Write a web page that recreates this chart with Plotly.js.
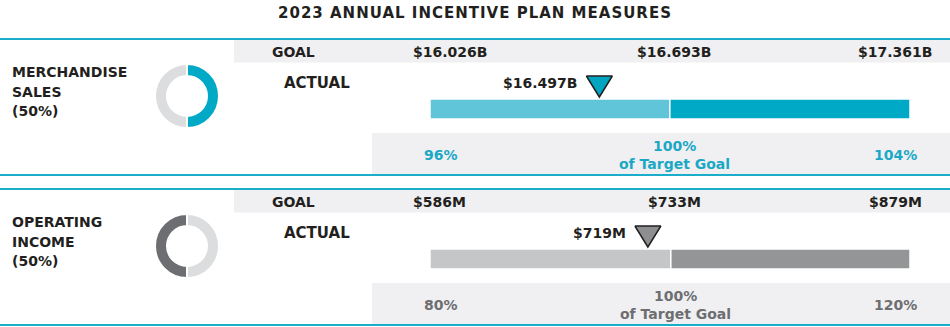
<!DOCTYPE html>
<html>
<head>
<meta charset="utf-8">
<script src="https://cdn.plot.ly/plotly-3.0.1.min.js"></script>
<style>html,body{margin:0;padding:0;background:#fff;}#chart{width:950px;height:327px;}
.gtitle{letter-spacing:1px;}</style>
</head>
<body>
<div id="chart"></div>
<script>
// ---------- DATA ----------
const chartTitle = "2023 ANNUAL INCENTIVE PLAN MEASURES";
const measureLines = [["MERCHANDISE", "SALES", "(50%)"], ["OPERATING", "INCOME", "(50%)"]];
const measureWeights = [50, 50];          // each measure is 50% of the plan
const goalLabelText = "GOAL";
const actualLabelText = "ACTUAL";

const salesGoals = [16.026, 16.693, 17.361];          // $B: threshold, target, max
const salesGoalLabels = ["$16.026B", "$16.693B", "$17.361B"];
const salesActual = 16.497;
const salesActualLabel = "$16.497B";
const salesPctLabels = ["96%", "100%<br>of Target Goal", "104%"];

const incomeGoals = [586, 733, 879];                   // $M: threshold, target, max
const incomeGoalLabels = ["$586M", "$733M", "$879M"];
const incomeActual = 719;
const incomeActualLabel = "$719M";
const incomePctLabels = ["80%", "100%<br>of Target Goal", "120%"];

// ---------- STYLE ----------
const FONT = "DejaVu Sans";
const DARK = "#231f20";
const CYAN_LINE = "#1aaecb";
const BAND = "#f0f0f2";
const W = 950, H = 327;
const barLeft = 430, barRight = 910;

const rows = [
  {top: 39, axis: "x", goals: salesGoals, goalLabels: salesGoalLabels, actual: salesActual,
   actualLabel: salesActualLabel, pct: salesPctLabels, names: measureLines[0],
   light: "#60c5d9", dark: "#00a9c6", tri: "#00a5c0", pctColor: "#1ba8c5",
   donut: ["#00a9c6", "#dcdddf"]},
  {top: 189, axis: "x2", goals: incomeGoals, goalLabels: incomeGoalLabels, actual: incomeActual,
   actualLabel: incomeActualLabel, pct: incomePctLabels, names: measureLines[1],
   light: "#c5c6c8", dark: "#949597", tri: "#8d8e90", pctColor: "#6d6e71",
   donut: ["#dcdddf", "#6d6e71"]}
];

const traces = [];
const shapes = [];
const annotations = [];

rows.forEach((r, i) => {
  const T = r.top;
  const g = r.goals;
  const span = g[2] - g[0];
  const axisY = "y";
  // lines & bands
  shapes.push({type: "rect", xref: "paper", yref: "y", x0: 234 / W, x1: 1, y0: T + 1, y1: T + 23.5,
               fillcolor: BAND, line: {width: 0}, layer: "below"});
  shapes.push({type: "rect", xref: "paper", yref: "y", x0: 372 / W, x1: 1, y0: T + 94, y1: T + 136,
               fillcolor: BAND, line: {width: 0}, layer: "below"});
  shapes.push({type: "line", xref: "paper", yref: "y", x0: 0, x1: 1, y0: T, y1: T,
               line: {color: CYAN_LINE, width: 2}});
  shapes.push({type: "line", xref: "paper", yref: "y", x0: 0, x1: 1, y0: T + 136, y1: T + 136,
               line: {color: CYAN_LINE, width: 2}});

  // bars: threshold->target and target->max
  traces.push({type: "bar", orientation: "h", xaxis: r.axis, yaxis: axisY,
               y: [T + 70], base: [g[0]], x: [g[1] - g[0]], width: [20],
               marker: {color: r.light, line: {color: "#ffffff", width: 1.5}},
               hoverinfo: "skip", showlegend: false});
  traces.push({type: "bar", orientation: "h", xaxis: r.axis, yaxis: axisY,
               y: [T + 70], base: [g[1]], x: [g[2] - g[1]], width: [20],
               marker: {color: r.dark, line: {color: "#ffffff", width: 1.5}},
               hoverinfo: "skip", showlegend: false});

  // actual marker (downward triangle whose tip sits on the actual value)
  const dw = 13 * span / (barRight - barLeft);
  const v = r.actual;
  traces.push({type: "scatter", mode: "lines", xaxis: r.axis, yaxis: axisY,
               x: [v - dw, v + dw, v, v - dw], y: [T + 37, T + 37, T + 58, T + 37],
               fill: "toself", fillcolor: r.tri, line: {color: DARK, width: 1.5},
               hoverinfo: "skip", showlegend: false});
  annotations.push({xref: r.axis, yref: "y", x: v, y: T + 44, xanchor: "right", yanchor: "middle",
                    xshift: -20, text: r.actualLabel, showarrow: false,
                    font: {family: FONT, size: 14, weight: "bold", color: DARK}});

  // goal labels
  const goalShift = [-19, 4, -15];
  const goalAnchor = ["left", "center", "center"];
  r.goalLabels.forEach((t, k) => {
    annotations.push({xref: r.axis, yref: "y", x: g[k], y: T + 13, xanchor: goalAnchor[k], yanchor: "middle",
                      xshift: goalShift[k], text: t, showarrow: false,
                      font: {family: FONT, size: 14, weight: "bold", color: DARK}});
  });
  // percent labels
  const pctShift = [11, 5, -15];
  r.pct.forEach((t, k) => {
    annotations.push({xref: r.axis, yref: "y", x: g[k], y: T + 115.5, xanchor: "center", yanchor: "middle",
                      xshift: pctShift[k], text: t, showarrow: false,
                      font: {family: FONT, size: 14, weight: "bold", color: r.pctColor}});
  });

  // row labels
  annotations.push({xref: "paper", yref: "y", x: 270 / W, y: T + 13, xanchor: "left", yanchor: "middle",
                    text: goalLabelText, showarrow: false,
                    font: {family: FONT, size: 14, weight: "bold", color: DARK}});
  annotations.push({xref: "paper", yref: "y", x: 282 / W, y: T + 44, xanchor: "left", yanchor: "middle",
                    text: actualLabelText, showarrow: false,
                    font: {family: FONT, size: 15, weight: "bold", color: DARK}});
  r.names.forEach((t, k) => {
    annotations.push({xref: "paper", yref: "y", x: 10 / W, y: T + 33 + k * 19.5, xanchor: "left", yanchor: "middle",
                      text: t, showarrow: false,
                      font: {family: FONT, size: 14, weight: "bold", color: DARK}});
  });

  // donut: the measure's weight in the plan
  const cy = T + 57;
  traces.push({type: "pie", values: measureWeights, sort: false, direction: "clockwise", rotation: 0,
               hole: 0.625, textinfo: "none", hoverinfo: "skip", showlegend: false,
               marker: {colors: r.donut, line: {color: "#ffffff", width: 2}},
               domain: {x: [155 / W, 219 / W], y: [(H - cy - 32.5) / H, (H - cy + 32.5) / H]}});
});

const layout = {
  width: W, height: H,
  margin: {l: 0, r: 0, t: 0, b: 0, pad: 0},
  paper_bgcolor: "#ffffff", plot_bgcolor: "rgba(0,0,0,0)",
  barmode: "overlay",
  title: {text: chartTitle, x: 0.5, xanchor: "center", y: 1 - 12.5 / H, yanchor: "middle", yref: "container",
          font: {family: FONT, size: 15, weight: "bold", color: DARK}},
  xaxis: {domain: [barLeft / W, barRight / W], range: [salesGoals[0], salesGoals[2]], visible: false, fixedrange: true},
  xaxis2: {domain: [barLeft / W, barRight / W], range: [incomeGoals[0], incomeGoals[2]], visible: false,
           overlaying: "x", anchor: "y", fixedrange: true},
  yaxis: {domain: [0, 1], range: [H, 0], visible: false, fixedrange: true},
  shapes: shapes,
  annotations: annotations,
  showlegend: false
};

Plotly.newPlot("chart", traces, layout, {displayModeBar: false, staticPlot: true});
</script>
</body>
</html>
